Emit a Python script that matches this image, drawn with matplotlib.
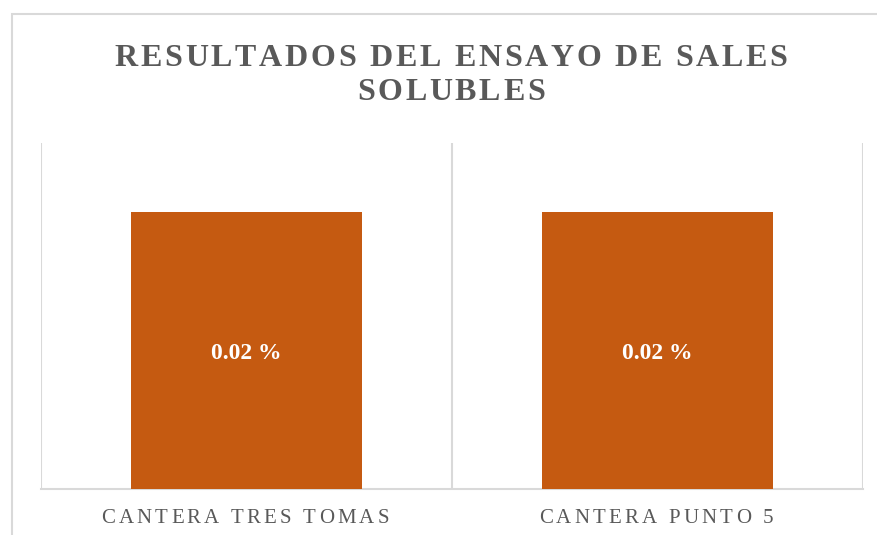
import matplotlib
matplotlib.use('Agg')
import matplotlib.pyplot as plt
from matplotlib.patches import Rectangle
from matplotlib.transforms import IdentityTransform

# Datos del gráfico
canteras = ['CANTERA TRES TOMAS', 'CANTERA PUNTO 5']
sales_solubles = [0.02, 0.02]
etiquetas = ['0.02 %', '0.02 %']
titulo = ['RESULTADOS DEL ENSAYO DE SALES', 'SOLUBLES']

plt.rcParams['font.family'] = ['Liberation Serif', 'DejaVu Serif']

W, H = 877, 535
fig = plt.figure(figsize=(W / 100, H / 100), dpi=100)
ax = fig.add_axes([41 / W, 1 - 489 / H, (863 - 41) / W, (489 - 143) / H])

x = list(range(len(canteras)))
ax.bar(x, sales_solubles, width=0.56, color='#C55A11', zorder=3)
ax.set_xlim(-0.5, len(canteras) - 0.5)
ax.set_ylim(0, 0.025)

# Líneas de separación entre categorías
for b in [i - 0.5 for i in range(len(canteras) + 1)]:
    ax.axvline(b, color='#d9d9d9', lw=1.5, zorder=1)
for s in ['top', 'left', 'right']:
    ax.spines[s].set_visible(False)
ax.spines['bottom'].set_color('#d9d9d9')
ax.spines['bottom'].set_linewidth(1.5)
ax.set_xticks([])
ax.set_yticks([])

for i, v in enumerate(sales_solubles):
    ax.text(i, v / 2, etiquetas[i], ha='center', va='center_baseline', color='white',
            fontsize=17, fontweight='bold', zorder=4)

# Borde del área del gráfico
fig.patches.append(Rectangle((12 / W, -0.1), 1.0, 1.1 - 14 / H, transform=fig.transFigure,
                             fill=False, edgecolor='#d9d9d9', lw=1.5))

renderer = fig.canvas.get_renderer()


def ancho(s, **kw):
    t = fig.text(0, 0, s, transform=IdentityTransform(), **kw)
    w = t.get_window_extent(renderer).width
    t.remove()
    return w


def texto_espaciado(xc, y, s, espacio, **kw):
    base = ancho('XX', **kw)
    anchos = [ancho('X' + c + 'X', **kw) - base for c in s]
    total = sum(anchos) + espacio * (len(s) - 1)
    xp = xc - total / 2
    for c, w in zip(s, anchos):
        fig.text(xp, y, c, transform=IdentityTransform(), ha='left', va='baseline', **kw)
        xp += w + espacio


estilo_titulo = dict(fontsize=23, fontweight='bold', color='#595959')
texto_espaciado(451, H - 66, titulo[0], 2.7, **estilo_titulo)
texto_espaciado(451, H - 100, titulo[1], 2.7, **estilo_titulo)

for i, nombre in enumerate(canteras):
    xc = ax.transData.transform((i, 0))[0]
    texto_espaciado(xc - 1.5, H - 523, nombre, 3.2, fontsize=15, color='#595959')

fig.savefig('out.png', dpi=100)
